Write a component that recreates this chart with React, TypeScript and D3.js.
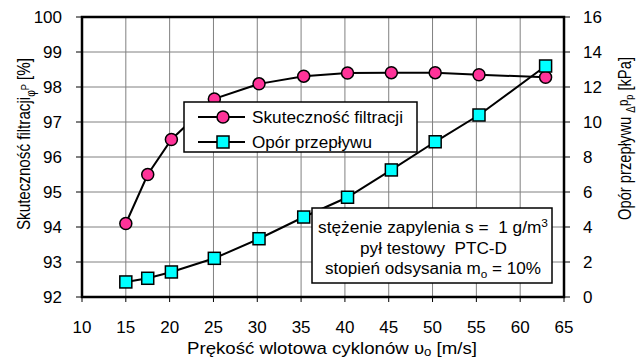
import React from "react";
import * as d3 from "d3";

const velocity = [15, 17.5, 20.2, 25.1, 30.2, 35.3, 40.3, 45.3, 50.3, 55.3, 62.9];
const efficiency = [94.1, 95.5, 96.5, 97.66, 98.09, 98.31, 98.4, 98.41, 98.41, 98.35, 98.28];
const pressure = [0.86, 1.07, 1.43, 2.21, 3.33, 4.57, 5.7, 7.26, 8.87, 10.4, 13.2];
const xTicks = [10, 15, 20, 25, 30, 35, 40, 45, 50, 55, 60, 65];
const yLeftTicks = [92, 93, 94, 95, 96, 97, 98, 99, 100];
const yRightTicks = [0, 2, 4, 6, 8, 10, 12, 14, 16];

const W = 638, H = 360;
const L = 82, R = 564, T = 17, B = 297;
const FONT = "Liberation Sans, Arial, sans-serif";
const PINK = "#ff3399";
const CYAN = "#00ffff";

export default function App() {
  const x = d3.scaleLinear().domain([10, 65]).range([L, R]);
  const yL = d3.scaleLinear().domain([92, 100]).range([B, T]);
  const yR = d3.scaleLinear().domain([0, 16]).range([B, T]);
  const effLine = d3.line<number>().x((_, i) => x(velocity[i])).y((d) => yL(d))(efficiency) || "";
  const prLine = d3.line<number>().x((_, i) => x(velocity[i])).y((d) => yR(d))(pressure) || "";
  const s = 12;
  const adj = "spacingAndGlyphs";

  return (
    <svg width={W} height={H} style={{ position: "absolute", left: 0, top: 0, background: "#fff" }} fontFamily={FONT}>
      {/* grid */}
      {xTicks.map((t) => (
        <line key={"gx" + t} x1={x(t)} x2={x(t)} y1={T} y2={B} stroke="#808080" strokeWidth={1} />
      ))}
      {yLeftTicks.map((t) => (
        <line key={"gy" + t} x1={L} x2={R} y1={yL(t)} y2={yL(t)} stroke="#808080" strokeWidth={1} />
      ))}
      {/* ticks */}
      {xTicks.map((t) => (
        <g key={"tx" + t}>
          <line x1={x(t)} x2={x(t)} y1={B} y2={B + 5} stroke="#000" strokeWidth={1} />
          <text x={x(t)} y={333} textAnchor="middle" fontSize={17}>{t}</text>
        </g>
      ))}
      {yLeftTicks.map((t) => (
        <g key={"tl" + t}>
          <line x1={L - 6} x2={L} y1={yL(t)} y2={yL(t)} stroke="#000" strokeWidth={1} />
          <text x={62} y={yL(t)} dy="0.36em" textAnchor="end" fontSize={17}>{t}</text>
        </g>
      ))}
      {yRightTicks.map((t) => (
        <g key={"tr" + t}>
          <line x1={R} x2={R + 6} y1={yR(t)} y2={yR(t)} stroke="#000" strokeWidth={1} />
          <text x={583} y={yR(t)} dy="0.36em" textAnchor="start" fontSize={17}>{t}</text>
        </g>
      ))}
      {/* frame */}
      <rect x={L} y={T} width={R - L} height={B - T} fill="none" stroke="#000" strokeWidth={2.5} />
      {/* series */}
      <path d={prLine} fill="none" stroke="#000" strokeWidth={2} />
      <path d={effLine} fill="none" stroke="#000" strokeWidth={2} />
      {efficiency.map((d, i) => (
        <circle key={"c" + i} cx={x(velocity[i])} cy={yL(d)} r={6} fill={PINK} stroke="#000" strokeWidth={1.5} />
      ))}
      {pressure.map((d, i) => (
        <rect key={"s" + i} x={x(velocity[i]) - s / 2} y={yR(d) - s / 2} width={s} height={s} fill={CYAN} stroke="#000" strokeWidth={1.5} />
      ))}
      {/* legend */}
      <rect x={184} y={102} width={233} height={50} fill="#fff" stroke="#000" strokeWidth={1.5} />
      <line x1={198} x2={245} y1={117} y2={117} stroke="#000" strokeWidth={2} />
      <circle cx={223} cy={117} r={6} fill={PINK} stroke="#000" strokeWidth={1.5} />
      <text x={252} y={117} dy="0.36em" fontSize={16.5} textLength={151} lengthAdjust={adj}>Skuteczność filtracji</text>
      <line x1={198} x2={245} y1={142} y2={142} stroke="#000" strokeWidth={2} />
      <rect x={223 - s / 2} y={142 - s / 2} width={s} height={s} fill={CYAN} stroke="#000" strokeWidth={1.5} />
      <text x={252} y={142} dy="0.36em" fontSize={16.5} textLength={120} lengthAdjust={adj}>Opór przepływu</text>
      {/* annotation */}
      <rect x={312} y={208} width={240} height={75} fill="#fff" stroke="#000" strokeWidth={1.5} />
      <text x={318} y={227} dy="0.36em" fontSize={16} textLength={230} lengthAdjust={adj} xmlSpace="preserve">
        stężenie zapylenia s =  1 g/m<tspan dy="-6" fontSize={11}>3</tspan>
      </text>
      <text x={360} y={248} dy="0.36em" fontSize={16} textLength={147} lengthAdjust={adj} xmlSpace="preserve">pył testowy  PTC-D</text>
      <text x={325} y={268} dy="0.36em" fontSize={16} textLength={216} lengthAdjust={adj}>
        stopień odsysania m<tspan dy="4" fontSize={11}>o</tspan><tspan dy="-4"> = 10%</tspan>
      </text>
      {/* axis titles */}
      <text x={187} y={354} fontSize={17} textLength={290} lengthAdjust={adj}>
        Prękość wlotowa cyklonów υ<tspan dy="2" fontSize={12}>o</tspan><tspan dy="-2"> [m/s]</tspan>
      </text>
      <text transform="translate(30,230) rotate(-90)" x={0} y={0} fontSize={18} textLength={172} lengthAdjust={adj}>
        Skuteczność filtracji<tspan dy="5" fontSize={12}>φ</tspan><tspan dy="-6" fontSize={11}>P</tspan><tspan dy="1"> [%]</tspan>
      </text>
      <text transform="translate(631,220) rotate(-90)" x={0} y={0} fontSize={18} textLength={163} lengthAdjust={adj}>
        Opór przepływu <tspan dy="4" fontSize={12}>Δ</tspan><tspan dy="-7" fontSize={14}>p</tspan><tspan dy="5" fontSize={11}>p</tspan><tspan dy="-2"> [kPa]</tspan>
      </text>
    </svg>
  );
}
